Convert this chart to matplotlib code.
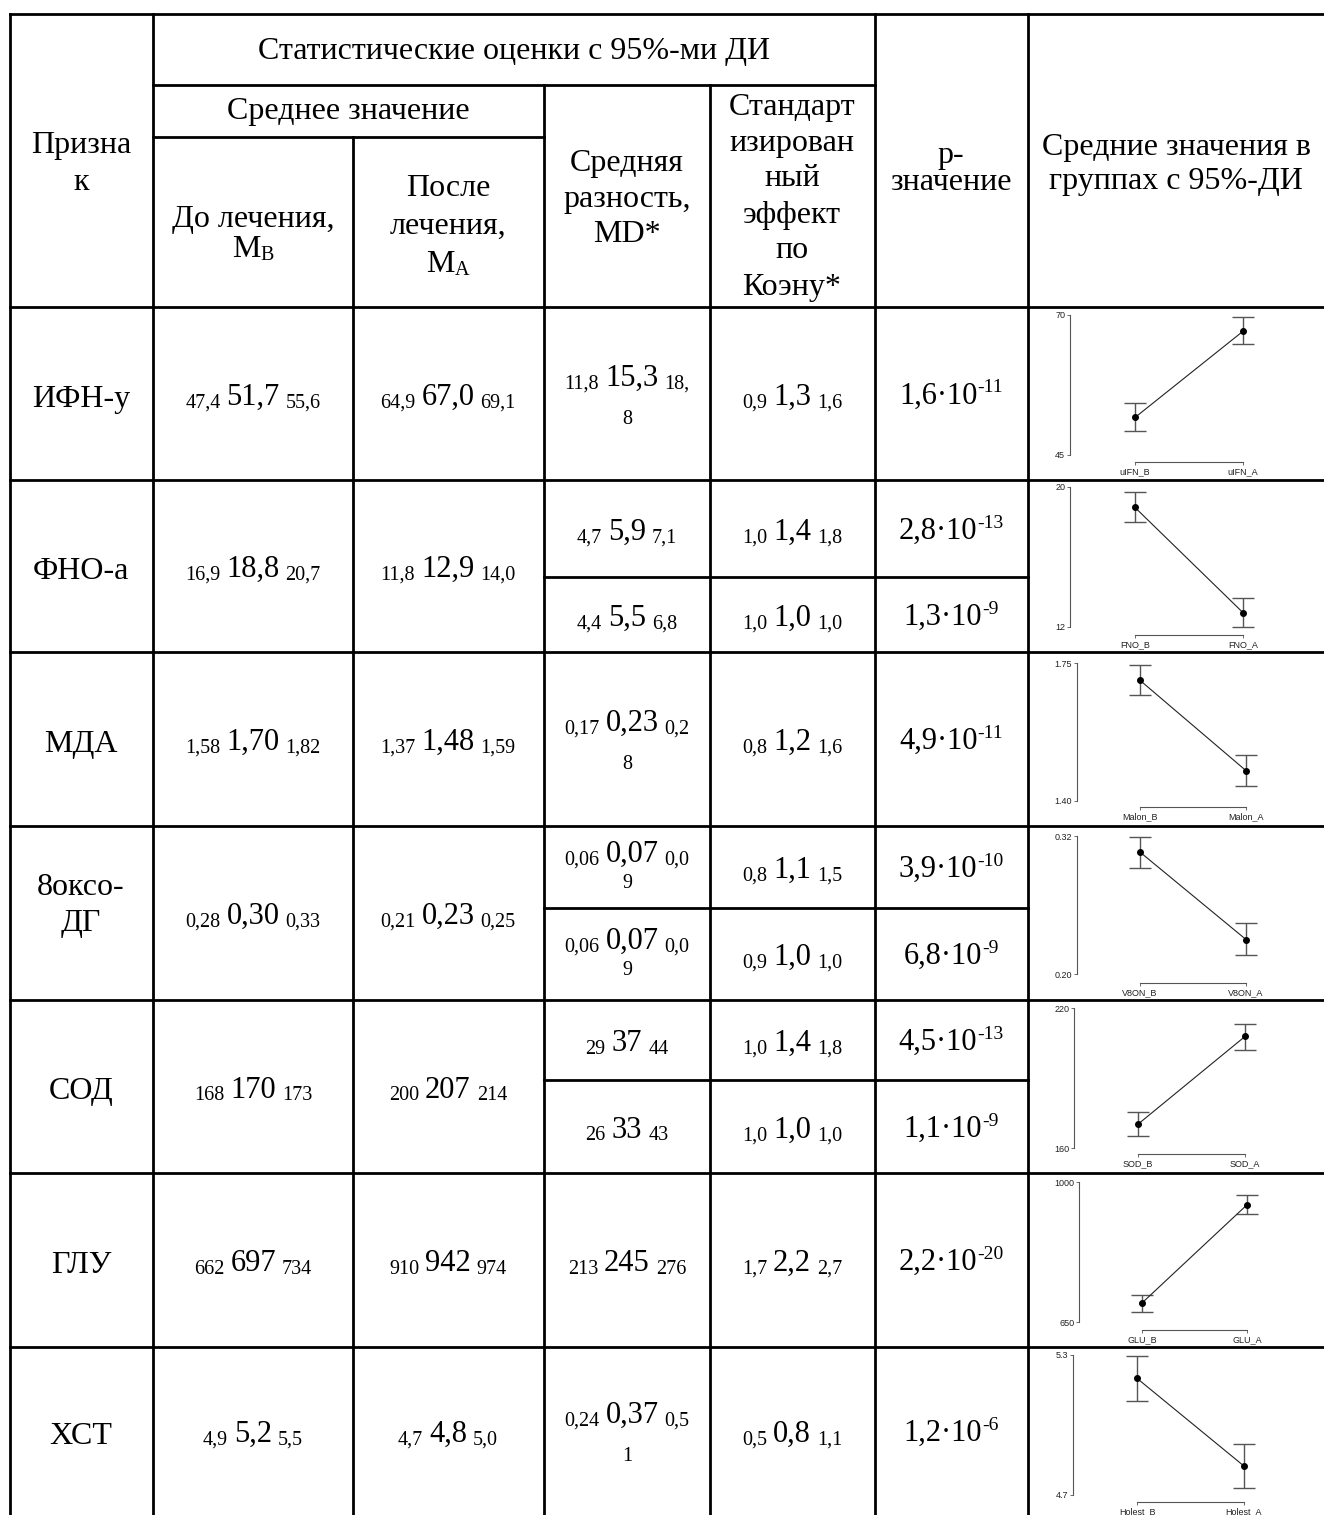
import numpy as np
import matplotlib
matplotlib.use('Agg')
import matplotlib.pyplot as plt

W, H = 1324, 1515
SERIF = 'Liberation Serif'
SANS = 'Liberation Sans'
HEAD = 23
BIG = 22
SMALL = 14.5
SUP = 14
GAP = 6

# ---- table data ----
features = ["ИФН-у", "ФНО-а", "МДА", "8оксо-\nДГ", "СОД", "ГЛУ", "ХСТ"]
mean_before = [("47,4", "51,7", "55,6"), ("16,9", "18,8", "20,7"), ("1,58", "1,70", "1,82"),
               ("0,28", "0,30", "0,33"), ("168", "170", "173"), ("662", "697", "734"),
               ("4,9", "5,2", "5,5")]
mean_after = [("64,9", "67,0", "69,1"), ("11,8", "12,9", "14,0"), ("1,37", "1,48", "1,59"),
              ("0,21", "0,23", "0,25"), ("200", "207", "214"), ("910", "942", "974"),
              ("4,7", "4,8", "5,0")]
mean_diff = [[("11,8", "15,3", "18,8")],
             [("4,7", "5,9", "7,1"), ("4,4", "5,5", "6,8")],
             [("0,17", "0,23", "0,28")],
             [("0,06", "0,07", "0,09"), ("0,06", "0,07", "0,09")],
             [("29", "37", "44"), ("26", "33", "43")],
             [("213", "245", "276")],
             [("0,24", "0,37", "0,51")]]
cohen = [[("0,9", "1,3", "1,6")],
         [("1,0", "1,4", "1,8"), ("1,0", "1,0", "1,0")],
         [("0,8", "1,2", "1,6")],
         [("0,8", "1,1", "1,5"), ("0,9", "1,0", "1,0")],
         [("1,0", "1,4", "1,8"), ("1,0", "1,0", "1,0")],
         [("1,7", "2,2", "2,7")],
         [("0,5", "0,8", "1,1")]]
p_values = [[("1,6", "-11")],
            [("2,8", "-13"), ("1,3", "-9")],
            [("4,9", "-11")],
            [("3,9", "-10"), ("6,8", "-9")],
            [("4,5", "-13"), ("1,1", "-9")],
            [("2,2", "-20")],
            [("1,2", "-6")]]

# ---- mini chart data ----
chart_names = [("uIFN_B", "uIFN_A"), ("FNO_B", "FNO_A"), ("Malon_B", "Malon_A"),
               ("V8ON_B", "V8ON_A"), ("SOD_B", "SOD_A"), ("GLU_B", "GLU_A"),
               ("Holest_B", "Holest_A")]
chart_ticks = [(45, 70), (12, 20), (1.40, 1.75), (0.20, 0.32), (160, 220), (650, 1000), (4.7, 5.3)]
chart_ticklabels = [("45", "70"), ("12", "20"), ("1.40", "1.75"), ("0.20", "0.32"),
                    ("160", "220"), ("650", "1000"), ("4.7", "5.3")]
chart_mean_b = [51.7, 18.83, 1.706, 0.306, 170.2, 697.5, 5.20]
chart_lo_b = [49.3, 17.99, 1.668, 0.292, 165.0, 674.0, 5.104]
chart_hi_b = [54.2, 19.7, 1.745, 0.319, 175.5, 717.0, 5.296]
chart_mean_a = [67.1, 12.82, 1.477, 0.230, 207.8, 943.0, 4.824]
chart_lo_a = [64.8, 11.98, 1.438, 0.2165, 202.1, 921.0, 4.729]
chart_hi_a = [69.7, 13.67, 1.516, 0.244, 213.0, 967.0, 4.919]

# ---- layout (pixels) ----
col_x = [10, 153, 353, 544, 710, 875, 1028, 1324]
row_y = [307, 480, 652, 826, 1000, 1173, 1347, 1515]
split_y = {1: 577, 3: 908, 4: 1080}
# spine x, top tick y, bottom tick y, x of B, x of A, bracket y
chart_geom = [(1070, 315, 455, 1135, 1243, 462),
              (1070, 487, 627, 1135, 1243, 635),
              (1077, 663, 801, 1140, 1246, 807),
              (1077, 836, 974, 1140, 1246, 983),
              (1074, 1008, 1148, 1138, 1245, 1154),
              (1079, 1182, 1322, 1142, 1247, 1330),
              (1073, 1355, 1495, 1137, 1244, 1502)]

fig = plt.figure(figsize=(W / 100, H / 100), dpi=100)
ax = fig.add_axes([0, 0, 1, 1])
ax.set_xlim(0, W)
ax.set_ylim(H, 0)
ax.axis('off')
renderer = fig.canvas.get_renderer()
LW = 2.0


def hline(y, x0, x1):
    ax.plot([x0, x1], [y, y], color='black', lw=LW, solid_capstyle='projecting')


def vline(x, y0, y1):
    ax.plot([x, x], [y0, y1], color='black', lw=LW, solid_capstyle='projecting')


def text_w(s, fs):
    t = ax.text(0, 0, s, fontsize=fs, family=SERIF)
    w = t.get_window_extent(renderer).width
    t.remove()
    return w


def draw_runs(cx, base, runs):
    # runs: (text, size, dy, gap before)
    widths = [text_w(s, fs) for s, fs, dy, g in runs]
    total = sum(widths) + sum(g for s, fs, dy, g in runs)
    x = cx - total / 2
    for (s, fs, dy, g), w in zip(runs, widths):
        x += g
        ax.text(x, base + dy, s, fontsize=fs, family=SERIF, ha='left', va='baseline')
        x += w


def draw_ci(cx, base, lo, mid, hi, inner, tight=False):
    runs = [(lo, SMALL, 3, 0), (mid, BIG, 0, GAP), (hi, SMALL, 3, GAP)]
    total = sum(text_w(s, fs) for s, fs, dy, g in runs) + 2 * GAP
    if total > inner:
        # the last character of the upper bound wraps to the next line
        up, down = (5, 21) if tight else (8, 30)
        draw_runs(cx, base - up - 11, [(lo, SMALL, 3, 0), (mid, BIG, 0, GAP), (hi[:-1], SMALL, 3, GAP)])
        draw_runs(cx, base + down - 11, [(hi[-1:], SMALL, 0, 0)])
    else:
        draw_runs(cx, base, runs)


def draw_p(cx, base, mant, expo):
    draw_runs(cx, base, [(mant + "·10", BIG, 0, 0), (expo, SUP, -11, 0)])


# ---- grid ----
hline(14, col_x[0], W)
hline(85, col_x[1], col_x[5])
hline(137, col_x[1], col_x[3])
for y in row_y[:-1]:
    hline(y, col_x[0], W)
for i, y in split_y.items():
    hline(y, col_x[3], col_x[6])
for x in [col_x[0], col_x[1], col_x[5], col_x[6]]:
    vline(x, 14, H)
vline(col_x[2], 137, H)
vline(col_x[3], 85, H)
vline(col_x[4], 85, H)


# ---- header ----
def ctext(x, y, s, fs=HEAD):
    ax.text(x, y, s, fontsize=fs, family=SERIF, ha='center', va='center')


ctext(81, 145, "Призна")
ctext(81, 182, "к")
ctext(514, 52, "Статистические оценки с 95%-ми ДИ")
ctext(348, 112, "Среднее значение")
ctext(253, 220, "До лечения,")
draw_runs(253, 257, [("M", HEAD, 0, 0), ("B", SMALL, 3, 0)])
ctext(448, 188, "После")
ctext(448, 226, "лечения,")
draw_runs(448, 272, [("M", HEAD, 0, 0), ("A", SMALL, 3, 0)])
for i, s in enumerate(["Средняя", "разность,", "MD*"]):
    ctext(627, 163 + 36 * i, s)
for i, s in enumerate(["Стандарт", "изирован", "ный", "эффект", "по", "Коэну*"]):
    ctext(792, 107 + 36 * i, s)
ctext(951, 155, "p-")
ctext(951, 183, "значение")
ctext(1176, 147, "Средние значения в")
ctext(1176, 182, "группах с 95%-ДИ")

# ---- body ----
for r in range(len(features)):
    top, bot = row_y[r], row_y[r + 1]
    cy = (top + bot) / 2
    lines = features[r].split("\n")
    if len(lines) == 1:
        ax.text(81, cy + 13, lines[0], fontsize=HEAD, family=SERIF, ha='center', va='baseline')
    else:
        ax.text(81, cy - 18, lines[0], fontsize=HEAD, family=SERIF, ha='center', va='baseline')
        ax.text(81, cy + 18, lines[1], fontsize=HEAD, family=SERIF, ha='center', va='baseline')
    draw_ci(253, cy + 11, *mean_before[r], col_x[2] - col_x[1] - 40)
    draw_ci(448, cy + 11, *mean_after[r], col_x[3] - col_x[2] - 40)
    if r in split_y:
        subs = [(top + split_y[r]) / 2, (split_y[r] + bot) / 2]
    else:
        subs = [cy]
    for k, sy in enumerate(subs):
        draw_ci(627, sy + 11, *mean_diff[r][k], col_x[4] - col_x[3] - 40, tight=len(subs) > 1)
        draw_ci(792, sy + 11, *cohen[r][k], col_x[5] - col_x[4] - 40)
        draw_p(951, sy + 10, *p_values[r][k])

# ---- mini charts ----
for r in range(len(chart_names)):
    sx, ty, by, xb, xa, bry = chart_geom[r]
    unit = xa - xb
    x1 = xa + 35
    cax = fig.add_axes([sx / W, 1 - by / H, (x1 - sx) / W, (by - ty) / H])
    cax.set_xlim((sx - xb) / unit, (x1 - xb) / unit)
    cax.set_ylim(*chart_ticks[r])
    cax.patch.set_visible(False)
    for sp in ['top', 'right']:
        cax.spines[sp].set_visible(False)
    cax.spines['left'].set_color('#555555')
    cax.spines['left'].set_linewidth(0.8)
    cax.spines['bottom'].set_color('#555555')
    cax.spines['bottom'].set_linewidth(0.8)
    cax.spines['bottom'].set_bounds(0, 1)
    cax.spines['bottom'].set_position(('outward', (bry - by) * 0.72))
    cax.set_yticks(chart_ticks[r])
    cax.set_yticklabels(chart_ticklabels[r])
    cax.set_xticks([0, 1])
    cax.set_xticklabels(chart_names[r])
    cax.tick_params(axis='both', length=2, width=0.6, color='#555555', labelsize=6.5, pad=1.5)
    for lab in cax.get_xticklabels() + cax.get_yticklabels():
        lab.set_family(SANS)
        lab.set_color('#222222')
    xs = [0, 1]
    means = [chart_mean_b[r], chart_mean_a[r]]
    err = [[chart_mean_b[r] - chart_lo_b[r], chart_mean_a[r] - chart_lo_a[r]],
           [chart_hi_b[r] - chart_mean_b[r], chart_hi_a[r] - chart_mean_a[r]]]
    cax.errorbar(xs, means, yerr=err, fmt='none', ecolor='#555555', elinewidth=1.0,
                 capsize=8, capthick=1.0, clip_on=False)
    cax.plot(xs, means, color='#222222', lw=0.8, clip_on=False)
    cax.plot(xs, means, 'o', color='black', ms=4, clip_on=False)

fig.savefig('out.png', dpi=100)
